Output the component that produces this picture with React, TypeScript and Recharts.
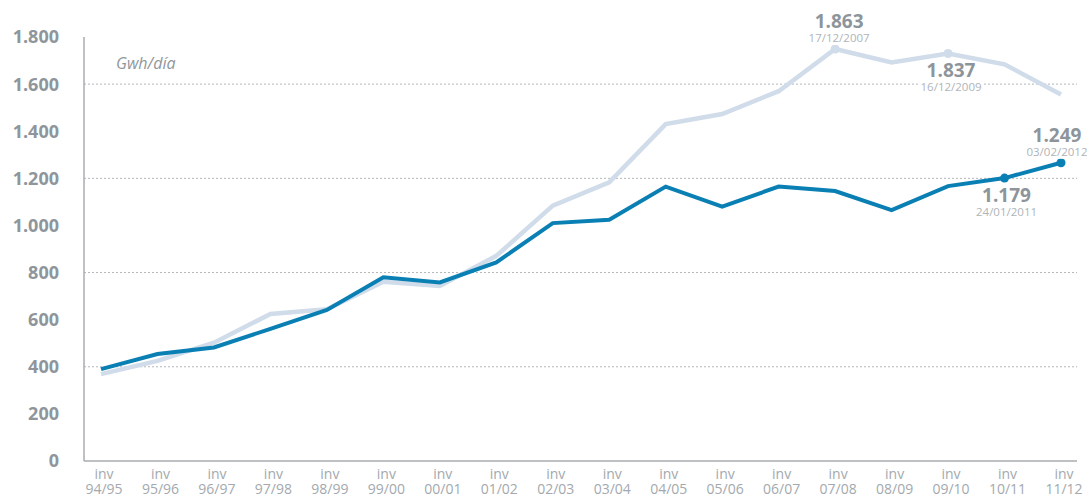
import React from "react";
import { LineChart, Line, XAxis, YAxis, ReferenceLine } from "recharts";

// winters (inv 94/95 ... inv 11/12)
const winters = [
  "94/95", "95/96", "96/97", "97/98", "98/99", "99/00", "00/01", "01/02", "02/03",
  "03/04", "04/05", "05/06", "06/07", "07/08", "08/09", "09/10", "10/11", "11/12",
];

// light series (upper curve)
const lightValues = [
  369, 425, 502, 624, 644, 761, 743, 871, 1084, 1183, 1430, 1473, 1570, 1749, 1692,
  1730, 1684, 1556,
];

// dark series (lower curve)
const darkValues = [
  390, 454, 482, 561, 641, 780, 758, 843, 1010, 1024, 1165, 1080, 1165, 1146, 1065,
  1167, 1201, 1266,
];

const yTicks = [0, 200, 400, 600, 800, 1000, 1200, 1400, 1600, 1800];
const gridValues = [400, 800, 1200, 1600];

// record annotations
const noteWinters = ["07/08", "09/10", "10/11", "11/12"];
const noteSeries = ["light", "light", "dark", "dark"];
const noteValues = ["1.863", "1.837", "1.179", "1.249"];
const noteDates = ["17/12/2007", "16/12/2009", "24/01/2011", "03/02/2012"];

// annotation layout (not data)
const noteAbove = [true, false, false, true];
const noteDx = [4, 3, 2, -4];

const FONT = "'Open Sans', sans-serif";
const LIGHT = "#d0dce9";
const DARK = "#0a7fb4";
const AXIS = "#a7adb1";

const data = winters.map((w, i) => ({
  winter: w,
  light: lightValues[i],
  dark: darkValues[i],
}));

const formatThousands = (v: number) =>
  v >= 1000 ? `${Math.floor(v / 1000)}.${String(v % 1000).padStart(3, "0")}` : `${v}`;

const WinterTick = (props: any) => {
  const { x, y, payload } = props;
  return (
    <text x={x + 3} y={y} textAnchor="middle" fill="#a3a9ae" fontSize={14} fontFamily={FONT}>
      <tspan x={x + 3} dy={17.5}>inv</tspan>
      <tspan x={x + 3} dy={15.5}>{payload.value}</tspan>
    </text>
  );
};

const findNote = (series: string, index: number) =>
  noteWinters.findIndex((w, i) => noteSeries[i] === series && w === winters[index]);

const makeDot = (series: string, color: string) => (props: any) => {
  const { cx, cy, index } = props;
  if (findNote(series, index) < 0) return <g key={`d-${series}-${index}`} />;
  return <circle key={`d-${series}-${index}`} cx={cx} cy={cy} r={4.5} fill={color} />;
};

const makeNote = (series: string) => (props: any) => {
  const { x, y, index } = props;
  const k = findNote(series, index);
  if (k < 0) return <g key={`n-${series}-${index}`} />;
  const cx = x + noteDx[k];
  const numY = noteAbove[k] ? y - 21 : y + 24;
  const dateY = noteAbove[k] ? y - 7 : y + 38;
  return (
    <g key={`n-${series}-${index}`}>
      <rect x={cx - 32} y={dateY - 10} width={64} height={13} fill="#fff" />
      <text x={cx} y={numY} textAnchor="middle" fontSize={19} fontWeight={700} fill="#8d959b" fontFamily={FONT}>
        {noteValues[k]}
      </text>
      <text x={cx} y={dateY} textAnchor="middle" fontSize={11.5} fill="#afb4b8" fontFamily={FONT}>
        {noteDates[k]}
      </text>
    </g>
  );
};

export default function App() {
  return (
    <div style={{ position: "absolute", left: 0, top: 0, width: 1087, height: 496, background: "#fff" }}>
      <LineChart
        width={1087}
        height={496}
        data={data}
        margin={{ top: 37, right: 10, bottom: 0, left: 0 }}
      >
        <XAxis
          dataKey="winter"
          interval={0}
          padding={{ left: 17, right: 16 }}
          height={35}
          axisLine={{ stroke: AXIS, strokeWidth: 1.5 }}
          tickLine={false}
          tickSize={0}
          tickMargin={0}
          tick={<WinterTick />}
        />
        <YAxis
          domain={[0, 1800]}
          ticks={yTicks}
          width={84}
          axisLine={{ stroke: AXIS, strokeWidth: 1.5 }}
          tickLine={false}
          tickSize={0}
          tickMargin={25}
          tickFormatter={formatThousands}
          tick={{ fontSize: 18, fontWeight: 700, fill: "#8e969c", fontFamily: FONT }}
        />
        {gridValues.map((v) => (
          <ReferenceLine key={v} y={v} stroke="#b3b7ba" strokeDasharray="2 2" strokeWidth={1} />
        ))}
        <Line
          dataKey="light"
          stroke={LIGHT}
          strokeWidth={4.5}
          dot={makeDot("light", LIGHT)}
          activeDot={false}
          label={makeNote("light")}
          isAnimationActive={false}
        />
        <Line
          dataKey="dark"
          stroke={DARK}
          strokeWidth={4}
          dot={makeDot("dark", DARK)}
          activeDot={false}
          label={makeNote("dark")}
          isAnimationActive={false}
        />
      </LineChart>
      <div
        style={{
          position: "absolute",
          left: 116,
          top: 55,
          fontFamily: FONT,
          fontStyle: "italic",
          fontSize: 16,
          lineHeight: "16px",
          color: "#8f979d",
        }}
      >
        Gwh/día
      </div>
    </div>
  );
}
